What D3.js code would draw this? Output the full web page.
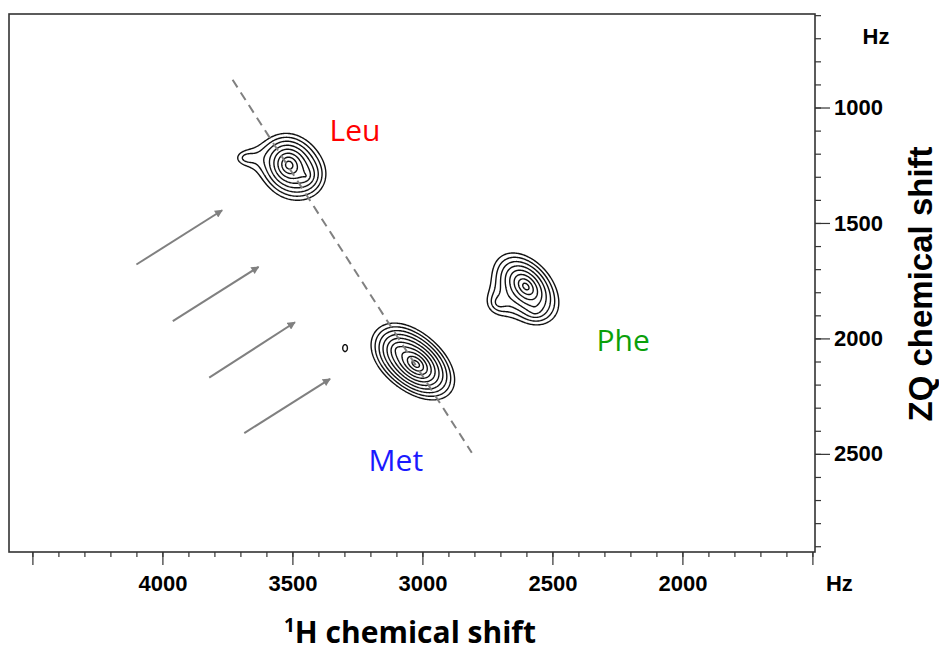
<!DOCTYPE html>
<html>
<head>
<meta charset="utf-8">
<script src="https://cdn.jsdelivr.net/npm/d3@7"></script>
<style>
body { margin: 0; background: #fff; }
</style>
</head>
<body>
<svg id="chart" width="939" height="653"></svg>
<script>
// axis ticks (Hz)
var xMajorTicks = [4500, 4000, 3500, 3000, 2500, 2000, 1500];
var xTickLabels = ["", "4000", "3500", "3000", "2500", "2000", ""];
var yMajorTicks = [1000, 1500, 2000, 2500];
var yTickLabels = ["1000", "1500", "2000", "2500"];

// cross peaks (Hz)
var peakNames   = ["Leu", "Leu shoulder", "Leu tail", "Met", "Met shoulder", "Phe", "Phe shoulder", "Phe foot", "spot"];
var peakX       = [3513, 3448, 3675, 3025, 3094, 2602, 2705, 2565, 3298];
var peakY       = [1249, 1297, 1218, 2111, 2050, 1775, 1845, 1880, 2042];
var peakWidthX  = [46, 50, 62, 50, 50, 52, 52, 40, 23];
var peakWidthY  = [56, 56, 45, 52, 56, 62, 56, 40, 39];
var peakRho     = [-0.1, 0, 0, -0.45, -0.2, -0.4, 0, 0, 0];
var peakHeight  = [10.2, 2.5, 1.5, 19, 3, 10.0, 1.8, 1.2, 1.3];
var contourLevels = [1, 1.35, 1.82, 2.46, 3.32, 4.48, 6.05, 8.17, 11.0, 14.9, 20.1];

// residue labels
var labelNames  = ["Leu", "Phe", "Met"];
var labelX      = [3259, 2228, 3102];
var labelY      = [1097, 2007, 2527];
var labelColors = ["#ff0000", "#0aa00a", "#1a1aff"];

// diagonal and arrows
var diagX = [3730, 2810];
var diagY = [880, 2495];
var arrowX1 = [4100, 3960, 3820, 3685];
var arrowY1 = [1680, 1925, 2170, 2410];
var arrowX2 = [3770, 3630, 3490, 3355];
var arrowY2 = [1445, 1690, 1930, 2175];

var svg = d3.select("#chart");
var x = d3.scaleLinear().domain([4590, 1490]).range([9, 815]);
var y = d3.scaleLinear().domain([595, 2925]).range([14, 552]);

svg.append("defs").append("marker")
    .attr("id", "head")
    .attr("markerUnits", "userSpaceOnUse")
    .attr("viewBox", "0 0 10 10")
    .attr("refX", 9).attr("refY", 5)
    .attr("markerWidth", 9).attr("markerHeight", 8)
    .attr("orient", "auto")
  .append("path")
    .attr("d", "M0,0L10,5L0,10z")
    .attr("fill", "#808080");

// contour field
var step = 1;
var x0 = x.range()[0], y0 = y.range()[0];
var nx = Math.round((x.range()[1] - x0) / step);
var ny = Math.round((y.range()[1] - y0) / step);
var values = new Array(nx * ny);
for (var j = 0; j < ny; j++) {
    var hy = y.invert(y0 + (j + 0.5) * step);
    for (var i = 0; i < nx; i++) {
        var hx = x.invert(x0 + (i + 0.5) * step);
        var v = 0;
        for (var k = 0; k < peakNames.length; k++) {
            var u = (hx - peakX[k]) / peakWidthX[k];
            var w = (hy - peakY[k]) / peakWidthY[k];
            var r = peakRho[k];
            var q = (u * u - 2 * r * u * w + w * w) / (1 - r * r);
            if (q < 400) v += peakHeight[k] * Math.exp(-Math.sqrt(q));
        }
        values[j * nx + i] = v;
    }
}
var contours = d3.contours().size([nx, ny]).thresholds(contourLevels)(values);
var toPixels = d3.geoTransform({
    point: function (gx, gy) { this.stream.point(x0 + gx * step, y0 + gy * step); }
});
svg.append("g")
    .selectAll("path")
    .data(contours)
    .join("path")
    .attr("d", d3.geoPath(toPixels))
    .attr("fill", "none")
    .attr("stroke", "#111")
    .attr("stroke-width", 1.4);

// diagonal
svg.append("line")
    .attr("x1", x(diagX[0])).attr("y1", y(diagY[0]))
    .attr("x2", x(diagX[1])).attr("y2", y(diagY[1]))
    .attr("stroke", "#808080")
    .attr("stroke-width", 2)
    .attr("stroke-dasharray", "9,6");

svg.append("g")
    .selectAll("line")
    .data(arrowX1)
    .join("line")
    .attr("x1", (d, i) => x(arrowX1[i])).attr("y1", (d, i) => y(arrowY1[i]))
    .attr("x2", (d, i) => x(arrowX2[i])).attr("y2", (d, i) => y(arrowY2[i]))
    .attr("stroke", "#808080")
    .attr("stroke-width", 2)
    .attr("marker-end", "url(#head)");

svg.append("g")
    .selectAll("text")
    .data(labelNames)
    .join("text")
    .attr("x", (d, i) => x(labelX[i]))
    .attr("y", (d, i) => y(labelY[i]))
    .attr("dy", "0.36em")
    .attr("text-anchor", "middle")
    .attr("font-family", "'Open Sans', sans-serif")
    .attr("font-size", 30)
    .attr("fill", (d, i) => labelColors[i])
    .text(d => d);

// frame
svg.append("rect")
    .attr("x", x.range()[0]).attr("y", y.range()[0])
    .attr("width", x.range()[1] - x.range()[0])
    .attr("height", y.range()[1] - y.range()[0])
    .attr("fill", "none")
    .attr("stroke", "#333")
    .attr("stroke-width", 1.6);

var tickFont = "'Liberation Sans', Arial, sans-serif";

// bottom axis
var gx = svg.append("g").attr("transform", "translate(0," + y.range()[1] + ")");
gx.call(d3.axisBottom(x).tickValues(d3.range(4500, 1499, -100)).tickSize(5).tickFormat(""));
gx.append("g").call(d3.axisBottom(x).tickValues(xMajorTicks).tickSize(13).tickPadding(10)
    .tickFormat((d, i) => xTickLabels[i]));
gx.selectAll(".domain").remove();
gx.selectAll("line").attr("stroke", "#333").attr("stroke-width", 1.2);
gx.append("text")
    .attr("x", x(1500) + 27).attr("y", 23).attr("dy", "0.71em")
    .attr("text-anchor", "middle")
    .text("Hz");
gx.selectAll("text").attr("font-family", tickFont).attr("font-weight", "bold")
    .attr("font-size", 22).attr("fill", "#000");

// right axis
var gy = svg.append("g").attr("transform", "translate(" + x.range()[1] + ",0)");
gy.call(d3.axisRight(y).tickValues(d3.range(600, 2925, 100)).tickSize(6).tickFormat(""));
gy.append("g").call(d3.axisRight(y).tickValues(yMajorTicks).tickSize(15).tickPadding(4)
    .tickFormat((d, i) => yTickLabels[i]));
gy.selectAll(".domain").remove();
gy.selectAll("line").attr("stroke", "#333").attr("stroke-width", 1.2);
gy.append("text")
    .attr("x", 61).attr("y", y(690)).attr("dy", "0.36em")
    .attr("text-anchor", "middle")
    .text("Hz");
gy.selectAll("text").attr("font-family", tickFont).attr("font-weight", "bold")
    .attr("font-size", 22).attr("fill", "#000");

// axis titles
var xt = svg.append("text")
    .attr("x", 410).attr("y", 643)
    .attr("text-anchor", "middle")
    .attr("font-family", "'Open Sans', sans-serif")
    .attr("font-weight", "bold")
    .attr("font-size", 30);
xt.append("tspan").attr("font-size", 19).attr("dy", -11).text("1");
xt.append("tspan").attr("dy", 11).text("H chemical shift");

svg.append("text")
    .attr("transform", "translate(932,284) rotate(-90)")
    .attr("text-anchor", "middle")
    .attr("font-family", tickFont)
    .attr("font-weight", "bold")
    .attr("font-size", 33)
    .text("ZQ chemical shift");
</script>
</body>
</html>
